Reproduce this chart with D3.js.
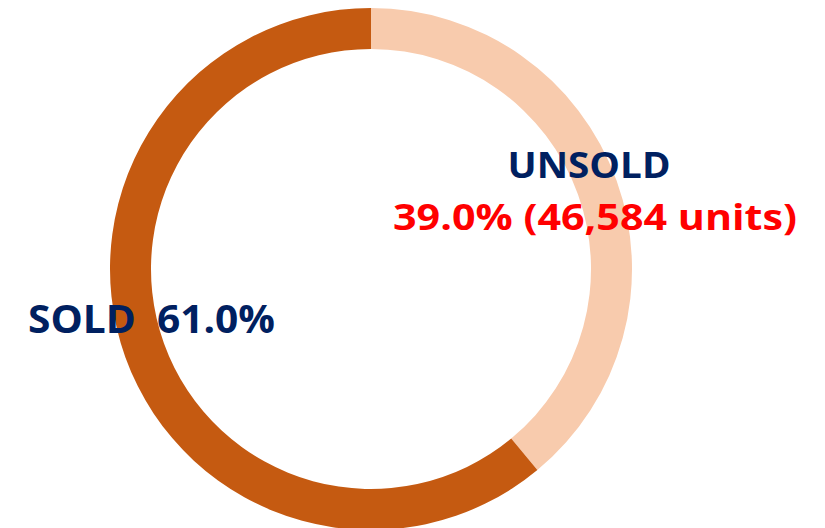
<!DOCTYPE html>
<meta charset="utf-8">
<script src="https://d3js.org/d3.v7.min.js"></script>
<style>
body { margin: 0; background: #ffffff; }
svg { display: block; }
</style>
<div id="chart"></div>
<script>

// data
var labels = ["UNSOLD", "SOLD"];
var shares = [39.0, 61.0];
var units = [46584, null];
var colours = ["#F8CBAD", "#C55A11"];

var width = 825, height = 528;
var cx = 371, cy = 269;
var outerR = 261, innerR = 220;

var svg = d3.select("#chart")
  .append("svg")
    .attr("width", width)
    .attr("height", height);

var g = svg.append("g")
    .attr("transform", "translate(" + cx + "," + cy + ")");

var pie = d3.pie()
  .sort(null)
  .value(function(d) { return d; });

var arc = d3.arc()
  .innerRadius(innerR)
  .outerRadius(outerR);

g.selectAll("path")
  .data(pie(shares))
  .enter()
  .append("path")
    .attr("d", arc)
    .attr("fill", function(d, i) { return colours[i]; });

var fmt = d3.format(",");

// UNSOLD label
svg.append("text")
  .attr("x", 589)
  .attr("y", 178)
  .attr("text-anchor", "middle")
  .attr("font-family", "'Open Sans', sans-serif")
  .attr("font-weight", 700)
  .style("font-size", "36px")
  .attr("fill", "#002060")
  .attr("textLength", 163)
  .attr("lengthAdjust", "spacingAndGlyphs")
  .text(labels[0]);

svg.append("text")
  .attr("x", 595)
  .attr("y", 230)
  .attr("text-anchor", "middle")
  .attr("font-family", "'Open Sans', sans-serif")
  .attr("font-weight", 700)
  .style("font-size", "36px")
  .attr("fill", "#FF0000")
  .attr("textLength", 404)
  .attr("lengthAdjust", "spacingAndGlyphs")
  .text(shares[0].toFixed(1) + "% (" + fmt(units[0]) + " units)");

// SOLD label
svg.append("text")
  .attr("x", 28)
  .attr("y", 333)
  .attr("text-anchor", "start")
  .attr("font-family", "'Open Sans', sans-serif")
  .attr("font-weight", 700)
  .style("font-size", "40px")
  .attr("fill", "#002060")
  .attr("xml:space", "preserve")
  .attr("textLength", 247)
  .attr("lengthAdjust", "spacingAndGlyphs")
  .text(labels[1] + "  " + shares[1].toFixed(1) + "%");

</script>
